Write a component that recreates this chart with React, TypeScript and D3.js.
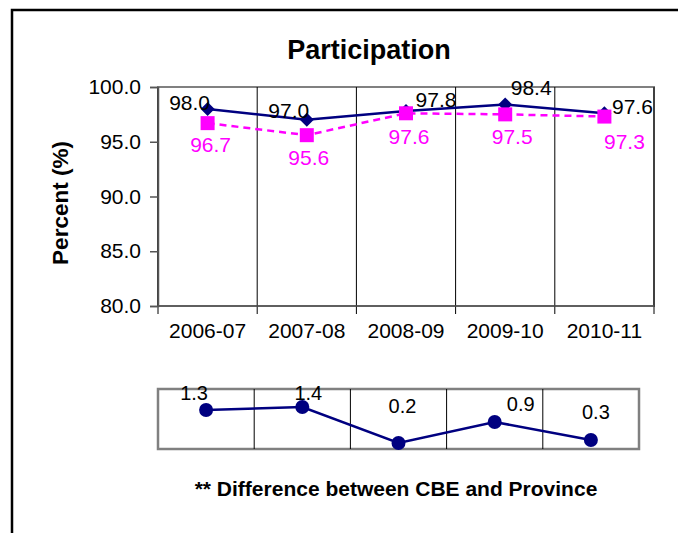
import React, { useEffect, useRef } from "react";
import * as d3 from "d3";

// chart data
const years = ["2006-07", "2007-08", "2008-09", "2009-10", "2010-11"];
const cbe = [98.0, 97.0, 97.8, 98.4, 97.6];
const province = [96.7, 95.6, 97.6, 97.5, 97.3];
const diff = [1.3, 1.4, 0.2, 0.9, 0.3];
const yTicks = [80, 85, 90, 95, 100];

// hand placed label offsets (like the excel original), [dx, dy] from the point
const cbeLabelOff = [[-18, 1], [-18, -2], [30, -4], [26, -10], [28, 1]];
const provLabelOff = [[3, 29], [2, 30], [3, 31], [7, 30], [20, 32]];
const diffLabelOff = [[-12, -10], [6, -7], [4, -30], [26, -11], [5, -21]];

const FONT = "'Liberation Sans', Arial, sans-serif";
const NAVY = "#000080";
const MAGENTA = "#FF00FF";

const W = 678;
const H = 533;

const App = () => {
  const yAxisRef = useRef<SVGGElement>(null);

  // main plot
  const x = d3.scaleBand<string>().domain(years).range([158, 654]);
  const y = d3.scaleLinear().domain([80, 100]).range([306, 87]);
  // difference strip
  const x2 = d3.scaleBand<string>().domain(years).range([158, 639]);
  const y2 = d3.scaleLinear().domain([0, 2]).range([449, 389]);

  const cx = (i: number) => (x(years[i]) as number) + x.bandwidth() / 2;
  const cx2 = (i: number) => (x2(years[i]) as number) + x2.bandwidth() / 2;

  useEffect(() => {
    const g = d3.select(yAxisRef.current);
    g.selectAll("*").remove();
    g.call(
      d3
        .axisLeft(y)
        .tickValues(yTicks)
        .tickFormat(d3.format(".1f"))
        .tickSize(8)
        .tickPadding(9)
    );
    g.select(".domain").attr("stroke", "#555").attr("stroke-width", 1.5);
    g.selectAll(".tick line").attr("stroke", "#555").attr("stroke-width", 1.5);
    g.selectAll(".tick text")
      .attr("font-size", 21)
      .attr("font-family", FONT)
      .attr("fill", "#000");
  }, []);

  const cbeLine = d3
    .line<number>()
    .x((_, i) => cx(i))
    .y((d) => y(d));
  const provLine = d3
    .line<number>()
    .x((_, i) => cx(i))
    .y((d) => y(d));
  const diffLine = d3
    .line<number>()
    .x((_, i) => cx2(i))
    .y((d) => y2(d));

  const bounds = [...years.map((yr) => x(yr) as number), 654];
  const bounds2 = [...years.map((yr) => x2(yr) as number), 639];

  return (
    <svg
      width={W}
      height={H}
      style={{ position: "absolute", left: 0, top: 0, background: "#fff" }}
      fontFamily={FONT}
    >
      {/* outer frame, runs off the picture */}
      <rect x={12} y={10} width={W + 40} height={H + 40} fill="#fff" stroke="#000" strokeWidth={2.5} />

      <text x={369} y={59} textAnchor="middle" fontSize={27} fontWeight="bold">
        Participation
      </text>

      {/* plot area border */}
      <rect x={158} y={87} width={496} height={219} fill="none" stroke="#808080" strokeWidth={2} />

      {/* vertical gridlines + x ticks */}
      {bounds.map((b, i) => (
        <line key={i} x1={b} x2={b} y1={87} y2={314} stroke="#000" strokeWidth={1} />
      ))}
      <line x1={158} x2={654} y1={306} y2={306} stroke="#555" strokeWidth={1.5} />
      <g ref={yAxisRef} transform="translate(158,0)" />

      {years.map((yr, i) => (
        <text key={yr} x={cx(i)} y={338} textAnchor="middle" fontSize={21}>
          {yr}
        </text>
      ))}

      <text
        transform="translate(68,203) rotate(-90)"
        textAnchor="middle"
        fontSize={22.5}
        fontWeight="bold"
      >
        Percent (%)
      </text>

      {/* CBE series */}
      <path d={cbeLine(cbe) || ""} fill="none" stroke={NAVY} strokeWidth={2.5} />
      {cbe.map((v, i) => (
        <path
          key={i}
          d="M0,-7L7,0L0,7L-7,0Z"
          transform={`translate(${cx(i)},${y(v)})`}
          fill={NAVY}
        />
      ))}

      {/* Province series */}
      <path
        d={provLine(province) || ""}
        fill="none"
        stroke={MAGENTA}
        strokeWidth={2.5}
        strokeDasharray="7,5"
      />
      {province.map((v, i) => (
        <rect key={i} x={cx(i) - 7} y={y(v) - 7} width={14} height={14} fill={MAGENTA} />
      ))}

      {cbe.map((v, i) => (
        <text
          key={i}
          x={cx(i) + cbeLabelOff[i][0]}
          y={y(v) + cbeLabelOff[i][1]}
          textAnchor="middle"
          fontSize={21}
          fill="#000"
        >
          {v.toFixed(1)}
        </text>
      ))}
      {province.map((v, i) => (
        <text
          key={i}
          x={cx(i) + provLabelOff[i][0]}
          y={y(v) + provLabelOff[i][1]}
          textAnchor="middle"
          fontSize={21}
          fill={MAGENTA}
        >
          {v.toFixed(1)}
        </text>
      ))}

      {/* difference strip */}
      <rect x={158} y={389} width={481} height={60} fill="none" stroke="#808080" strokeWidth={2.5} />
      {bounds2.slice(1, 5).map((b, i) => (
        <line key={i} x1={b} x2={b} y1={389} y2={449} stroke="#000" strokeWidth={1} />
      ))}
      <path d={diffLine(diff) || ""} fill="none" stroke={NAVY} strokeWidth={2.5} />
      {diff.map((v, i) => (
        <circle key={i} cx={cx2(i)} cy={y2(v)} r={7} fill={NAVY} />
      ))}
      {diff.map((v, i) => (
        <text
          key={i}
          x={cx2(i) + diffLabelOff[i][0]}
          y={y2(v) + diffLabelOff[i][1]}
          textAnchor="middle"
          fontSize={20}
        >
          {v.toFixed(1)}
        </text>
      ))}

      <text x={396} y={496} textAnchor="middle" fontSize={21} fontWeight="bold">
        ** Difference between CBE and Province
      </text>
    </svg>
  );
};

export default App;
